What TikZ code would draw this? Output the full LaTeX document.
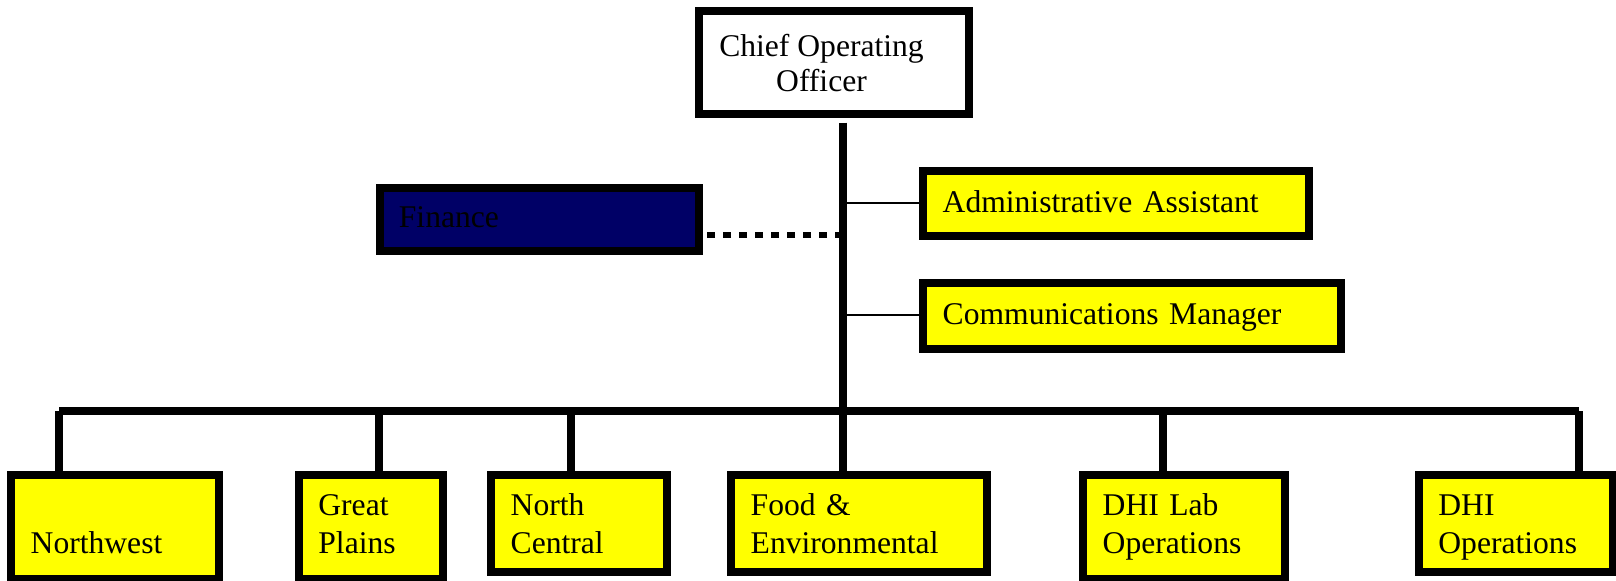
\documentclass[tikz,border=0pt]{standalone}
\usepackage{fontspec}
\setmainfont{Liberation Serif}

\definecolor{unityellow}{RGB}{255,255,0}
\definecolor{finnavy}{RGB}{0,0,102}

\tikzset{
  orgbox/.style={draw, line width=4pt, fill=unityellow, inner xsep=9.7pt, align=left,
    text height=10.8pt, text depth=2.3pt, font=\fontsize{15.8}{18.8}\selectfont},
  unit/.style={orgbox, minimum height=48.35pt, text depth=18.45pt},
  unittall/.style={orgbox, minimum height=52pt, text depth=22.1pt},
  busline/.style={line width=3.75pt},
  thinline/.style={line width=1.15pt},
  dotline/.style={line width=3.35pt, dash pattern=on 3.85pt off 4.15pt},
}

\begin{document}
\begin{tikzpicture}[x=0.5pt,y=-0.5pt]
  \useasboundingbox (0,0) rectangle (1616,580);
%%
  % Top
  \node[orgbox, fill=white, inner sep=0pt, minimum width=134.85pt, minimum height=51.8pt] (coo) at (833.85,62.5) {};
  \node[font=\fontsize{15.8}{17.5}\selectfont, align=center] (cootext) at (821.5,63.4) {Chief Operating\\Officer};
  % Staff
  \node[orgbox, fill=finnavy, text width=140.2pt, minimum height=31.75pt] (fin) at (539.1,219.25) {Finance};
  \node[orgbox, text width=173.45pt, minimum height=32.35pt] (adm) at (1116.15,203.65) {Administrative Assistant};
  \node[orgbox, text width=189.45pt, minimum height=32.85pt] (com) at (1132.15,315.85) {Communications Manager};
  % Units
  \node[unittall, text width=84.3pt] (nw) at (115,527) {\mbox{}\\Northwest};
  \node[unittall, text width=52.45pt] (gp) at (370.85,527) {Great\\Plains};
  \node[unit, text width=68.3pt] (nc) at (579,523.35) {North\\Central};
  \node[unit, text width=108.3pt] (food) at (859,523.35) {Food \&\\Environmental};
  \node[unittall, text width=81.6pt] (dlab) at (1184.3,527) {DHI Lab\\Operations};
  \node[unit, text width=77.6pt] (dops) at (1516,523.35) {DHI\\Operations};
%%
  % Trunk
  \coordinate (ctop) at (843,122.7);
  \coordinate (cadm) at (843,203);
  \coordinate (cfin) at (843,235);
  \coordinate (ccom) at (843,315);
  \draw[busline] (ctop) -- (ctop |- food.north);
  \draw[thinline] (cadm) -- (cadm -| adm.west);
  \draw[thinline] (ccom) -- (ccom -| com.west);
  \draw[dotline] (cfin) -- (cfin -| fin.east);
  % Bus
  \coordinate (bnw) at (59,411);
  \coordinate (bgp) at (379,411);
  \coordinate (bnc) at (571,411);
  \coordinate (bdlab) at (1163,411);
  \coordinate (bdops) at (1579,411);
  \draw[busline] (bnw) -- (bdops);
  \foreach \b/\n in {bnw/nw, bgp/gp, bnc/nc, bdlab/dlab, bdops/dops}
    \draw[busline] (\b) -- (\b |- \n.north);
%
\end{tikzpicture}
\end{document}
